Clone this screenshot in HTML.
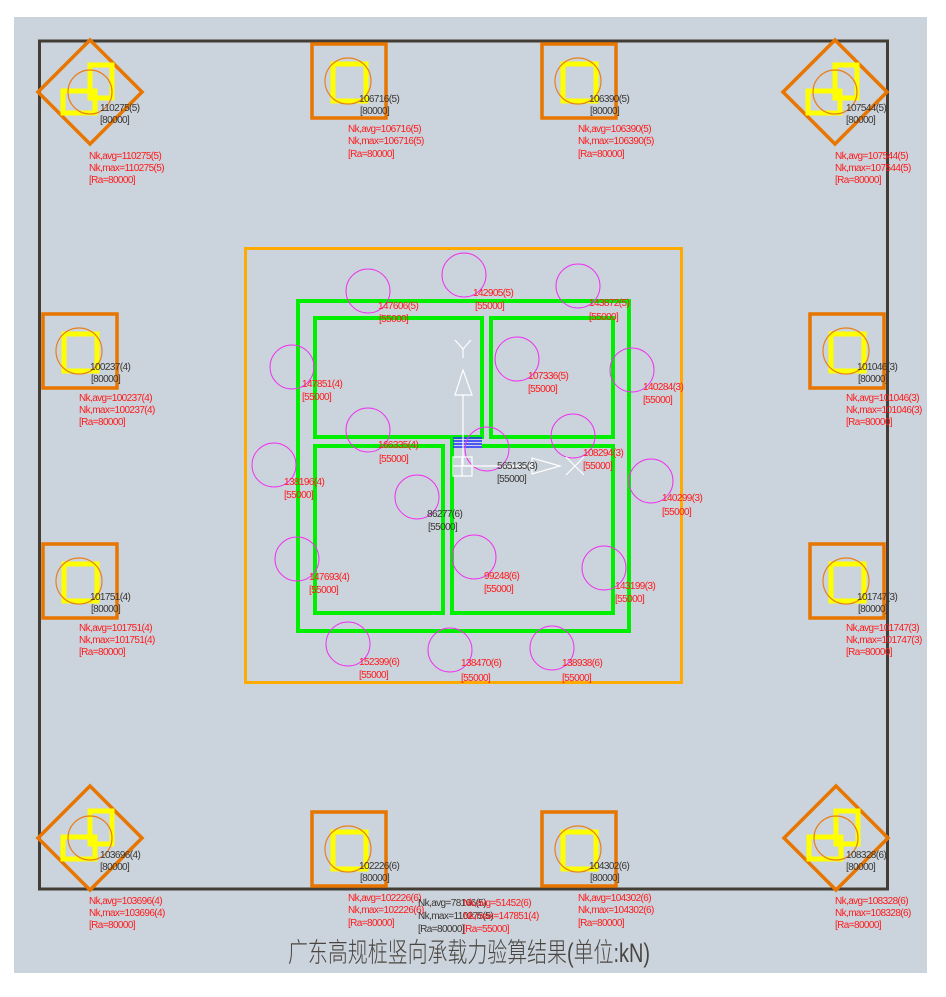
<!DOCTYPE html>
<html><head><meta charset="utf-8"><style>
html,body{margin:0;padding:0;background:#fff;}
svg{display:block;}
text{font-family:"Liberation Sans Narrow","Liberation Sans",sans-serif;font-size:10px;letter-spacing:-0.6px;}
.r{fill:#ff1a1a;}
.k{fill:#3a3632;}
</style></head><body>
<svg width="946" height="997" viewBox="0 0 946 997" xmlns="http://www.w3.org/2000/svg">
<rect x="14" y="17" width="913" height="956" fill="#cbd3dc"/>
<rect x="39.5" y="41" width="848" height="848" fill="none" stroke="#433d35" stroke-width="3"/>

<defs>
<g id="sq">
<rect x="0" y="0" width="74" height="74" fill="none" stroke="#e87500" stroke-width="3.5"/>
<rect x="21" y="20" width="33" height="37" fill="none" stroke="#ffff00" stroke-width="5"/>
<circle cx="36" cy="37" r="23" fill="none" stroke="#e8801a" stroke-width="1.2"/>
</g>
<g id="dm">
<polygon points="0,-52 52,0 0,52 -52,0" fill="none" stroke="#e87500" stroke-width="3.5"/>
<rect x="-27" y="-1" width="32" height="22" fill="none" stroke="#ffff00" stroke-width="5"/>
<rect x="0" y="-27" width="22" height="33" fill="none" stroke="#ffff00" stroke-width="5"/>
<circle cx="0" cy="0" r="22" fill="none" stroke="#e8801a" stroke-width="1.2"/>
</g>
</defs>

<!-- corner diamonds -->
<use href="#dm" x="90" y="92"/>
<use href="#dm" x="835" y="92"/>
<use href="#dm" x="90" y="838"/>
<use href="#dm" x="836" y="838"/>
<text class="k" x="100" y="111">110275(5)</text><text class="k" x="100" y="123">[80000]</text>
<text class="r" x="89" y="159">Nk,avg=110275(5)</text><text class="r" x="89" y="171">Nk,max=110275(5)</text><text class="r" x="89" y="183">[Ra=80000]</text>
<text class="k" x="846" y="111">107544(5)</text><text class="k" x="846" y="123">[80000]</text>
<text class="r" x="835" y="159">Nk,avg=107544(5)</text><text class="r" x="835" y="171">Nk,max=107544(5)</text><text class="r" x="835" y="183">[Ra=80000]</text>
<text class="k" x="100" y="858">103696(4)</text><text class="k" x="100" y="870">[80000]</text>
<text class="r" x="89" y="904">Nk,avg=103696(4)</text><text class="r" x="89" y="916">Nk,max=103696(4)</text><text class="r" x="89" y="928">[Ra=80000]</text>
<text class="k" x="846" y="858">108328(6)</text><text class="k" x="846" y="870">[80000]</text>
<text class="r" x="835" y="904">Nk,avg=108328(6)</text><text class="r" x="835" y="916">Nk,max=108328(6)</text><text class="r" x="835" y="928">[Ra=80000]</text>

<!-- square piles -->
<use href="#sq" x="312" y="44"/>
<text class="k" x="359" y="102">106716(5)</text><text class="k" x="360" y="114">[80000]</text>
<text class="r" x="348" y="132">Nk,avg=106716(5)</text><text class="r" x="348" y="144">Nk,max=106716(5)</text><text class="r" x="348" y="157">[Ra=80000]</text>
<use href="#sq" x="542" y="44"/>
<text class="k" x="589" y="102">106390(5)</text><text class="k" x="590" y="114">[80000]</text>
<text class="r" x="578" y="132">Nk,avg=106390(5)</text><text class="r" x="578" y="144">Nk,max=106390(5)</text><text class="r" x="578" y="157">[Ra=80000]</text>
<use href="#sq" x="43" y="314"/>
<text class="k" x="90" y="370">100237(4)</text><text class="k" x="91" y="382">[80000]</text>
<text class="r" x="79" y="401">Nk,avg=100237(4)</text><text class="r" x="79" y="413">Nk,max=100237(4)</text><text class="r" x="79" y="425">[Ra=80000]</text>
<use href="#sq" x="810" y="314"/>
<text class="k" x="857" y="370">101046(3)</text><text class="k" x="858" y="382">[80000]</text>
<text class="r" x="846" y="401">Nk,avg=101046(3)</text><text class="r" x="846" y="413">Nk,max=101046(3)</text><text class="r" x="846" y="425">[Ra=80000]</text>
<use href="#sq" x="43" y="544"/>
<text class="k" x="90" y="600">101751(4)</text><text class="k" x="91" y="612">[80000]</text>
<text class="r" x="79" y="631">Nk,avg=101751(4)</text><text class="r" x="79" y="643">Nk,max=101751(4)</text><text class="r" x="79" y="655">[Ra=80000]</text>
<use href="#sq" x="810" y="544"/>
<text class="k" x="857" y="600">101747(3)</text><text class="k" x="858" y="612">[80000]</text>
<text class="r" x="846" y="631">Nk,avg=101747(3)</text><text class="r" x="846" y="643">Nk,max=101747(3)</text><text class="r" x="846" y="655">[Ra=80000]</text>
<use href="#sq" x="312" y="812"/>
<text class="k" x="359" y="869">102226(6)</text><text class="k" x="360" y="881">[80000]</text>
<text class="r" x="348" y="901">Nk,avg=102226(6)</text><text class="r" x="348" y="913">Nk,max=102226(6)</text><text class="r" x="348" y="926">[Ra=80000]</text>
<use href="#sq" x="542" y="812"/>
<text class="k" x="589" y="869">104302(6)</text><text class="k" x="590" y="881">[80000]</text>
<text class="r" x="578" y="901">Nk,avg=104302(6)</text><text class="r" x="578" y="913">Nk,max=104302(6)</text><text class="r" x="578" y="926">[Ra=80000]</text>

<!-- bottom centre summary -->
<text class="k" x="418" y="906">Nk,avg=78166(5)</text><text class="k" x="418" y="919">Nk,max=110275(5)</text><text class="k" x="418" y="932">[Ra=80000]</text>
<text class="r" x="463" y="906">Nk,avg=51452(6)</text><text class="r" x="463" y="919">Nk,max=147851(4)</text><text class="r" x="463" y="932">[Ra=55000]</text>

<!-- core -->
<rect x="245.5" y="248.5" width="436" height="434" fill="none" stroke="#ffaa00" stroke-width="3"/>
<g fill="none" stroke="#00ee00" stroke-width="4">
<rect x="298" y="301" width="331" height="330"/>
<rect x="315" y="318" width="167" height="119"/>
<rect x="491" y="318" width="122" height="119"/>
<rect x="315" y="446" width="128" height="167"/>
<polyline points="452,437 452,613 613,613 613,446 482,446"/>
</g>
<g stroke="#2030ff" stroke-width="1.5">
<line x1="453" y1="438" x2="482" y2="438"/><line x1="453" y1="441" x2="482" y2="441"/><line x1="453" y1="444" x2="482" y2="444"/><line x1="453" y1="447" x2="482" y2="447"/>
</g>
<g fill="none" stroke="#ee33ee" stroke-width="1">
<circle cx="368" cy="291" r="22"/><circle cx="464" cy="275" r="22"/><circle cx="578" cy="286" r="22"/>
<circle cx="292" cy="367" r="22"/><circle cx="517" cy="359" r="22"/><circle cx="632" cy="370" r="22"/>
<circle cx="368" cy="430" r="22"/><circle cx="487" cy="449" r="22"/><circle cx="573" cy="436" r="22"/>
<circle cx="274" cy="465" r="22"/><circle cx="651" cy="481" r="22"/><circle cx="417" cy="497" r="22"/>
<circle cx="474" cy="557" r="22"/><circle cx="297" cy="559" r="22"/><circle cx="604" cy="568" r="22"/>
<circle cx="348" cy="644" r="22"/><circle cx="450" cy="650" r="22"/><circle cx="552" cy="648" r="22"/>
</g>
<!-- axes -->
<g fill="none" stroke="#ffffff" stroke-width="1.2">
<line x1="463" y1="466" x2="463" y2="395"/>
<polygon points="463,370 455,395 472,395"/>
<polyline points="455,340 463,349 471,340"/><line x1="463" y1="349" x2="463" y2="358"/>
<line x1="463" y1="466" x2="532" y2="466"/>
<polygon points="560,466 532,458 532,474"/>
<line x1="566" y1="457" x2="584" y2="475"/><line x1="584" y1="457" x2="566" y2="475"/>
<rect x="453" y="457" width="19" height="19"/><line x1="462" y1="457" x2="462" y2="476"/><line x1="453" y1="466" x2="472" y2="466"/>
</g>
<text class="r" x="378" y="309">147606(5)</text><text class="r" x="379" y="322">[55000]</text>
<text class="r" x="473" y="296">142905(5)</text><text class="r" x="475" y="309">[55000]</text>
<text class="r" x="589" y="306">143872(5)</text><text class="r" x="589" y="320">[55000]</text>
<text class="r" x="302" y="387">147851(4)</text><text class="r" x="302" y="400">[55000]</text>
<text class="r" x="528" y="379">107336(5)</text><text class="r" x="528" y="392">[55000]</text>
<text class="r" x="643" y="390">140284(3)</text><text class="r" x="643" y="403">[55000]</text>
<text class="r" x="378" y="448">166335(4)</text><text class="r" x="379" y="462">[55000]</text>
<text class="r" x="583" y="456">108294(3)</text><text class="r" x="583" y="469">[55000]</text>
<text class="r" x="284" y="485">138196(4)</text><text class="r" x="284" y="498">[55000]</text>
<text class="r" x="662" y="501">140299(3)</text><text class="r" x="662" y="515">[55000]</text>
<text class="k" x="427" y="517">86277(6)</text><text class="k" x="428" y="530">[55000]</text>
<text class="k" x="497" y="469">565135(3)</text><text class="k" x="497" y="482">[55000]</text>
<text class="r" x="309" y="580">147693(4)</text><text class="r" x="309" y="593">[55000]</text>
<text class="r" x="484" y="579">99248(6)</text><text class="r" x="484" y="592">[55000]</text>
<text class="r" x="615" y="589">143199(3)</text><text class="r" x="615" y="602">[55000]</text>
<text class="r" x="359" y="665">152399(6)</text><text class="r" x="359" y="678">[55000]</text>
<text class="r" x="461" y="666">138470(6)</text><text class="r" x="461" y="681">[55000]</text>
<text class="r" x="562" y="666">138938(6)</text><text class="r" x="562" y="681">[55000]</text>

<text x="288" y="962" textLength="362" lengthAdjust="spacingAndGlyphs" style="font-family:'Liberation Sans','Noto Sans CJK SC',sans-serif;font-size:27px;letter-spacing:0;fill:#4a4540;font-weight:300;">广东高规桩竖向承载力验算结果(单位:kN)</text>
</svg>
</body></html>
